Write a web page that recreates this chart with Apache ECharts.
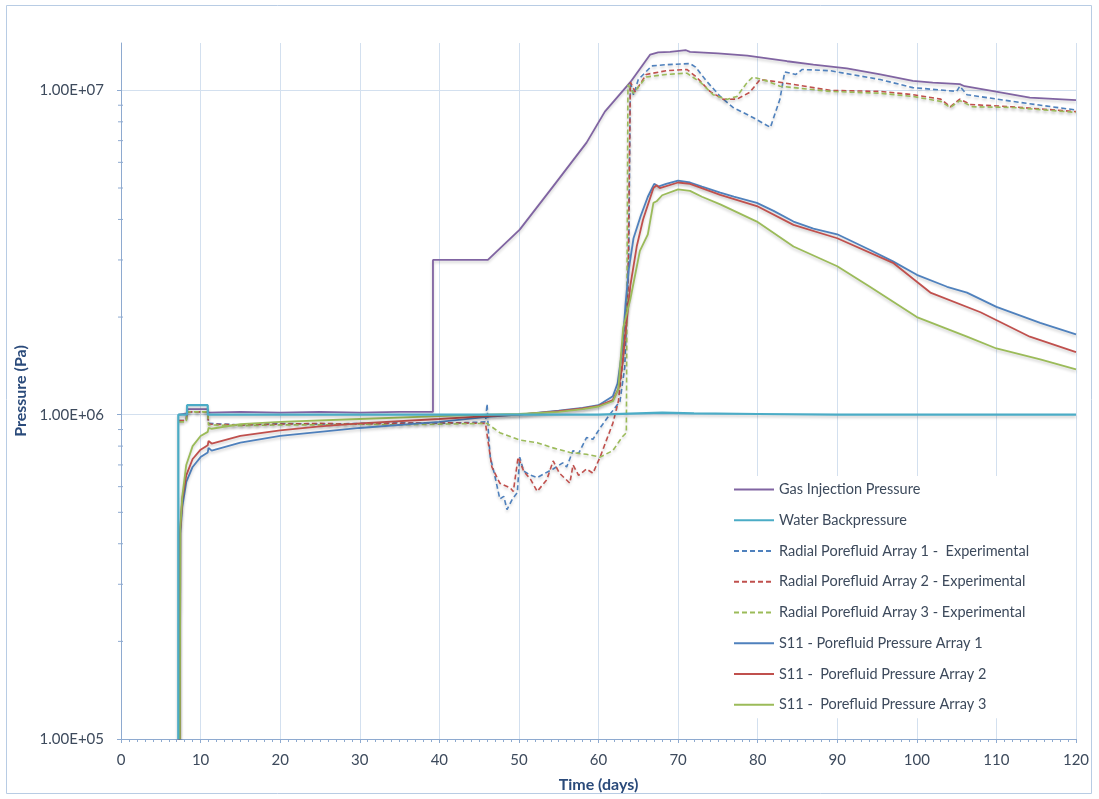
<!DOCTYPE html>
<html>
<head>
<meta charset="utf-8">
<script src="https://cdn.jsdelivr.net/npm/echarts@6/dist/echarts.min.js"></script>
<style>
html,body{margin:0;padding:0;background:#fff;}
#chart{width:1099px;height:799px;}
</style>
</head>
<body>
<div id="chart"></div>
<script>
// ---- Data (days, Pa) ----
const seriesNames = [
  'Gas Injection Pressure',
  'Water Backpressure',
  'Radial Porefluid Array 1 -  Experimental',
  'Radial Porefluid Array 2 - Experimental',
  'Radial Porefluid Array 3 - Experimental',
  'S11 - Porefluid Pressure Array 1',
  'S11 -  Porefluid Pressure Array 2',
  'S11 -  Porefluid Pressure Array 3'
];
const xTicks = [0,10,20,30,40,50,60,70,80,90,100,110,120];
const yTicks = [1e5, 1e6, 1e7];
const yMinorTicks = [2e5,3e5,4e5,5e5,6e5,7e5,8e5,9e5,2e6,3e6,4e6,5e6,6e6,7e6,8e6,9e6];

const gasDays = [7.3, 8.3, 8.35, 10.9, 11.0, 15, 20, 25, 30, 35, 39.2, 39.2, 46.1, 50.1, 54.3, 58.5, 60.8, 64, 66.5, 67.5, 69, 71.0, 71.2, 71.5, 75, 78.7, 83.7, 87, 91.2, 95.4, 99.5, 102, 105.4, 106, 109.6, 114.2, 120];
const gasPa   = [1.0e6, 1.01e6, 1.04e6, 1.04e6, 1.015e6, 1.02e6, 1.015e6, 1.02e6, 1.015e6, 1.02e6, 1.02e6, 3.0e6, 3.0e6, 3.72e6, 5.06e6, 6.9e6, 8.6e6, 1.06e7, 1.29e7, 1.31e7, 1.315e7, 1.33e7, 1.345e7, 1.315e7, 1.30e7, 1.28e7, 1.23e7, 1.20e7, 1.17e7, 1.12e7, 1.07e7, 1.057e7, 1.045e7, 1.03e7, 9.95e6, 9.5e6, 9.33e6];

const waterDays = [7.2, 7.2, 8.3, 8.3, 10.9, 10.9, 20, 30, 40, 50, 60, 65, 68, 72, 80, 90, 100, 110, 120];
const waterPa   = [1e5, 1.0e6, 1.0e6, 1.07e6, 1.07e6, 1.0e6, 1.0e6, 1.0e6, 1.0e6, 1.0e6, 1.0e6, 1.01e6, 1.015e6, 1.01e6, 1.005e6, 1.0e6, 1.0e6, 1.0e6, 1.0e6];

const exp1Days = [7.3, 8.2, 8.3, 10.9, 11.0, 15, 20, 25, 30, 35, 40, 45.8, 46.0, 46.2, 46.4, 46.9, 47.6, 48.1, 48.5, 49.2, 49.8, 50.1, 50.6, 51.5, 52.3, 53.3, 54.3, 55.5, 56.0, 56.8, 57.5, 58.5, 59.3, 60.2, 61.4, 62.7, 63.3, 63.8, 64.0, 64.4, 65.0, 66.7, 68.5, 71.5, 72.2, 73.6, 75.3, 76.9, 79.4, 81.6, 82.8, 83.4, 84.8, 85.6, 89.1, 95.4, 99.5, 105.0, 105.4, 106.3, 112, 120];
const exp1Pa   = [9.6e5, 9.6e5, 1.02e6, 1.02e6, 9.4e5, 9.3e5, 9.4e5, 9.35e5, 9.4e5, 9.45e5, 9.4e5, 9.5e5, 1.08e6, 8.5e5, 7.4e5, 6.6e5, 5.5e5, 5.6e5, 5.1e5, 5.5e5, 5.75e5, 7.4e5, 6.7e5, 6.5e5, 6.4e5, 6.6e5, 6.8e5, 7.1e5, 6.9e5, 7.75e5, 7.6e5, 8.5e5, 8.4e5, 9.1e5, 1.0e6, 1.1e6, 1.4e6, 3.0e6, 1.06e7, 9.7e6, 1.08e7, 1.19e7, 1.2e7, 1.21e7, 1.18e7, 1.066e7, 9.58e6, 8.86e6, 8.25e6, 7.69e6, 9.4e6, 1.14e7, 1.12e7, 1.16e7, 1.15e7, 1.08e7, 1.02e7, 9.93e6, 1.03e7, 9.7e6, 9.25e6, 8.7e6];

const exp2Days = [7.3, 8.2, 8.3, 10.9, 11.0, 15, 20, 25, 30, 35, 40, 45.8, 46.1, 46.6, 47.6, 48.9, 49.3, 49.9, 50.6, 51.5, 52.3, 53.5, 54.3, 55.1, 56.4, 56.8, 57.5, 58.5, 59.3, 60.2, 61.0, 61.8, 62.5, 63.1, 63.7, 64.0, 64.6, 66.0, 68.5, 71.1, 72.3, 74.0, 75.7, 77.4, 79.0, 80.3, 82.8, 89.1, 95.4, 99.5, 103, 104.2, 105.4, 106.7, 112, 120];
const exp2Pa   = [9.6e5, 9.6e5, 1.02e6, 1.02e6, 9.35e5, 9.3e5, 9.35e5, 9.4e5, 9.35e5, 9.4e5, 9.45e5, 9.4e5, 8.35e5, 6.9e5, 6.15e5, 5.95e5, 5.8e5, 7.4e5, 6.7e5, 6.3e5, 5.8e5, 6.3e5, 7.2e5, 6.6e5, 6.15e5, 7.0e5, 6.5e5, 6.8e5, 6.6e5, 7.4e5, 8.35e5, 9.4e5, 1.1e6, 1.5e6, 2.4e6, 1.06e7, 9.9e6, 1.12e7, 1.15e7, 1.16e7, 1.1e7, 9.93e6, 9.38e6, 9.4e6, 9.86e6, 1.08e7, 1.06e7, 1.0e7, 9.93e6, 9.7e6, 9.4e6, 8.9e6, 9.4e6, 9.05e6, 8.9e6, 8.6e6];

const exp3Days = [7.3, 8.2, 8.3, 10.9, 11.0, 15, 20, 25, 30, 35, 40, 46.0, 47.6, 50.1, 52.3, 54.3, 56.4, 58.5, 60.2, 61.8, 63.0, 63.5, 63.7, 64.4, 66.0, 68.5, 71.1, 72.8, 74.4, 76.1, 77.4, 78.7, 79.4, 81.1, 82.8, 89.1, 95.4, 99.5, 103, 104.2, 105.4, 107, 112, 120];
const exp3Pa   = [9.5e5, 9.5e5, 1.02e6, 1.02e6, 9.3e5, 9.25e5, 9.3e5, 9.3e5, 9.35e5, 9.3e5, 9.35e5, 9.4e5, 8.8e5, 8.35e5, 8.2e5, 7.9e5, 7.65e5, 7.55e5, 7.4e5, 7.75e5, 8.55e5, 8.8e5, 1.04e7, 9.8e6, 1.1e7, 1.12e7, 1.13e7, 1.06e7, 9.7e6, 9.38e6, 9.58e6, 1.06e7, 1.1e7, 1.07e7, 1.03e7, 9.93e6, 9.8e6, 9.58e6, 9.25e6, 8.86e6, 9.3e6, 8.9e6, 8.86e6, 8.55e6];

const s11aDays = [7.4, 7.45, 7.7, 8.2, 9, 10, 10.9, 11.0, 11.4, 15, 20, 25, 30, 40, 46, 50, 55, 58, 60, 61.8, 62.4, 63, 63.4, 63.8, 64.4, 65.3, 66.2, 67, 67.5, 68.5, 70, 71.5, 73, 75.3, 77, 79.9, 82, 84.5, 87, 90, 94, 97, 100, 103.8, 106.3, 110, 115.5, 120];
const s11aPa   = [1e5, 4.3e5, 5.2e5, 6.2e5, 6.9e5, 7.4e5, 7.65e5, 7.9e5, 7.75e5, 8.2e5, 8.6e5, 8.85e5, 9.1e5, 9.5e5, 9.85e5, 1.0e6, 1.03e6, 1.05e6, 1.07e6, 1.14e6, 1.25e6, 1.6e6, 2.2e6, 2.8e6, 3.5e6, 4.1e6, 4.7e6, 5.15e6, 5.05e6, 5.15e6, 5.27e6, 5.2e6, 5.05e6, 4.84e6, 4.7e6, 4.5e6, 4.25e6, 3.94e6, 3.75e6, 3.6e6, 3.23e6, 2.97e6, 2.7e6, 2.48e6, 2.38e6, 2.15e6, 1.92e6, 1.77e6];

const s11bDays = [7.4, 7.45, 7.7, 8.2, 9, 10, 10.9, 11.0, 11.4, 15, 20, 25, 30, 40, 46, 50, 55, 58, 60, 61.8, 62.5, 63, 63.5, 64, 64.8, 65.6, 66.9, 67.3, 67.7, 70, 71.5, 75.3, 79.9, 84.5, 90, 97, 100, 101.7, 108, 114.2, 120];
const s11bPa   = [1e5, 4.4e5, 5.5e5, 6.5e5, 7.3e5, 7.8e5, 8.05e5, 8.3e5, 8.15e5, 8.6e5, 8.95e5, 9.2e5, 9.4e5, 9.7e5, 9.9e5, 1.0e6, 1.025e6, 1.045e6, 1.065e6, 1.11e6, 1.2e6, 1.42e6, 1.9e6, 2.5e6, 3.3e6, 4.0e6, 5.0e6, 5.1e6, 5.0e6, 5.2e6, 5.15e6, 4.76e6, 4.4e6, 3.85e6, 3.5e6, 2.94e6, 2.57e6, 2.38e6, 2.07e6, 1.74e6, 1.56e6];

const s11cDays = [7.4, 7.45, 7.7, 8.2, 9, 10, 10.9, 11.0, 11.4, 15, 20, 30, 40, 46, 50, 55, 58, 60, 61.8, 62.5, 62.8, 63.1, 64, 65.2, 66.2, 66.9, 67.3, 68, 70, 71.5, 73, 75.3, 79.9, 84.5, 90, 94.1, 100, 106.3, 110, 115.5, 120];
const s11cPa   = [1e5, 4.5e5, 5.6e5, 7.0e5, 8.0e5, 8.6e5, 8.85e5, 9.1e5, 9.05e5, 9.35e5, 9.5e5, 9.7e5, 9.9e5, 1.0e6, 1.005e6, 1.02e6, 1.04e6, 1.06e6, 1.1e6, 1.2e6, 1.5e6, 1.85e6, 2.27e6, 3.2e6, 3.6e6, 4.5e6, 4.55e6, 4.75e6, 4.95e6, 4.9e6, 4.7e6, 4.45e6, 3.94e6, 3.3e6, 2.87e6, 2.48e6, 2.0e6, 1.74e6, 1.6e6, 1.48e6, 1.38e6];

const colors = ['#8064A2', '#4BACC6', '#4F81BD', '#C0504D', '#9BBB59', '#4F81BD', '#C0504D', '#9BBB59'];

function pairs(xs, ys) { return xs.map((x, i) => [x, ys[i]]); }
const allData = [
  pairs(gasDays, gasPa), pairs(waterDays, waterPa),
  pairs(exp1Days, exp1Pa), pairs(exp2Days, exp2Pa), pairs(exp3Days, exp3Pa),
  pairs(s11aDays, s11aPa), pairs(s11bDays, s11bPa), pairs(s11cDays, s11cPa)
];
const dashed = [false, false, true, true, true, false, false, false];

const FONT = 'Lato, "Open Sans", sans-serif';
const chart = echarts.init(document.getElementById('chart'), null, {renderer: 'canvas'});

const lineSeries = seriesNames.map((name, i) => ({
  name: name,
  type: 'line',
  data: allData[i],
  showSymbol: false,
  symbol: 'none',
  smooth: false,
  z: i === 1 ? 3 : 2,
  lineStyle: {
    color: colors[i],
    width: dashed[i] ? 1.6 : (i === 1 ? 2.2 : 1.8),
    type: dashed[i] ? [5, 3] : 'solid',
    shadowColor: 'rgba(0,0,0,0.2)',
    shadowBlur: 3,
    shadowOffsetY: 2
  },
  itemStyle: { color: colors[i] },
  emphasis: { disabled: true }
}));

const minorTickSeries = {
  type: 'custom',
  name: 'yMinor',
  silent: true,
  clip: false,
  data: yMinorTicks.map(v => [0, v]),
  renderItem: function (params, api) {
    const p = api.coord([0, api.value(1)]);
    return {
      type: 'line',
      shape: { x1: p[0] - 3, y1: p[1], x2: p[0] + 2, y2: p[1] },
      style: { stroke: '#8eaad0', lineWidth: 1 }
    };
  }
};

chart.setOption({
  animation: false,
  backgroundColor: '#ffffff',
  graphic: [{
    type: 'rect',
    shape: { x: 6.5, y: 5.5, width: 1085, height: 788 },
    style: { fill: 'none', stroke: '#b8cce4', lineWidth: 1 },
    silent: true
  }],
  grid: { left: 121, right: 23, top: 43, bottom: 60, containLabel: false },
  legend: {
    data: seriesNames,
    orient: 'vertical',
    left: 727,
    top: 476,
    padding: [6, 36, 6, 6],
    itemWidth: 40,
    itemHeight: 14,
    itemGap: 15.74,
    backgroundColor: '#ffffff',
    itemStyle: { opacity: 0, borderWidth: 0 },
    textStyle: { fontFamily: FONT, fontSize: 14.5, lineHeight: 14, color: '#3d4a5c' }
  },
  xAxis: {
    type: 'value',
    min: 0, max: 120, interval: 10,
    name: 'Time (days)',
    nameLocation: 'middle',
    nameGap: 38,
    nameTextStyle: { fontFamily: FONT, fontSize: 16, fontWeight: 'bold', color: '#2a4a7a' },
    axisLine: { show: true, onZero: false, lineStyle: { color: '#8eaad0', width: 1 } },
    axisTick: { show: true, length: 4, lineStyle: { color: '#8eaad0' } },
    minorTick: { show: true, splitNumber: 10, length: 3, lineStyle: { color: '#8eaad0' } },
    axisLabel: { fontFamily: FONT, fontSize: 15, color: '#3d4a5c', margin: 14 },
    splitLine: { show: true, lineStyle: { color: '#d3e0ef', width: 1 } }
  },
  yAxis: {
    type: 'log',
    logBase: 10,
    min: 1e5, max: 1.4e7,
    name: 'Pressure (Pa)',
    nameLocation: 'middle',
    nameGap: 90,
    nameRotate: 90,
    nameTextStyle: { fontFamily: FONT, fontSize: 16, fontWeight: 'bold', color: '#2a4a7a' },
    axisLine: { show: true, onZero: false, lineStyle: { color: '#8eaad0', width: 1 } },
    axisTick: { show: true, length: 4, lineStyle: { color: '#8eaad0' } },
    axisLabel: {
      fontFamily: FONT, fontSize: 15, color: '#3d4a5c', margin: 17,
      showMaxLabel: false,
      formatter: function (v) {
        const e = Math.log10(v);
        if (Math.abs(e - Math.round(e)) > 1e-6) return '';
        return '1.00E+' + String(Math.round(e)).padStart(2, '0');
      }
    },
    splitLine: { show: true, showMaxLine: false, showMinLine: false, lineStyle: { color: '#d3e0ef', width: 1 } }
  },
  series: lineSeries.concat([minorTickSeries])
});
</script>
</body>
</html>
